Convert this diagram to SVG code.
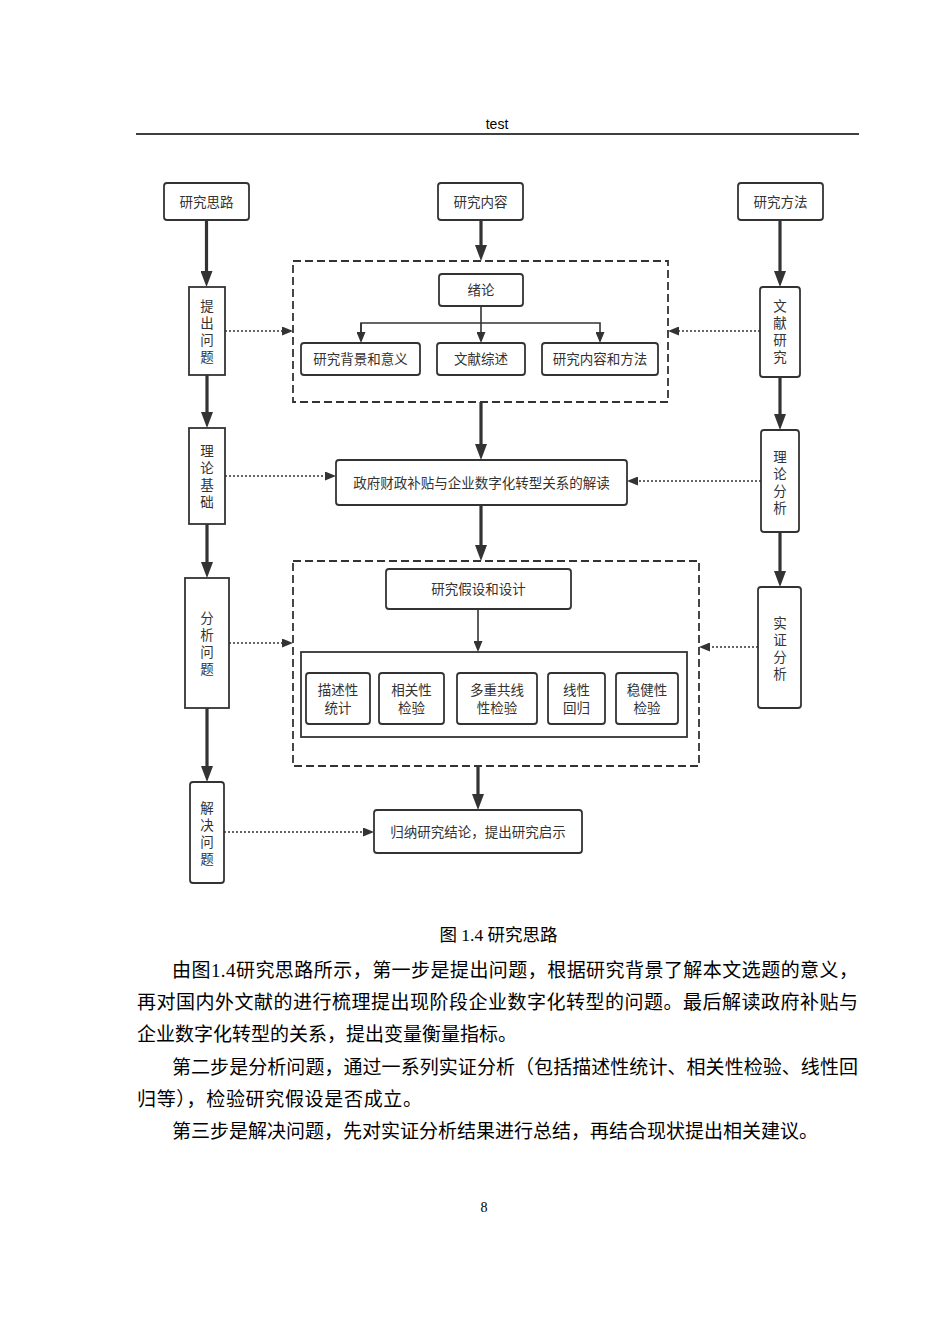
<svg xmlns="http://www.w3.org/2000/svg" width="950" height="1344" viewBox="0 0 950 1344">
<style>
.bx{fill:#fff;stroke:#333;stroke-width:1.8}
.dash{fill:none;stroke:#333;stroke-width:1.8;stroke-dasharray:8 4}
.t{font-family:"Noto Sans CJK SC","Liberation Sans",sans-serif;font-size:13.5px;fill:#333;text-anchor:middle}
.v{font-family:"Noto Sans CJK SC","Liberation Sans",sans-serif;font-size:13.5px;fill:#333;text-anchor:middle;writing-mode:vertical-rl;letter-spacing:3.5px}
.thick{stroke:#333;stroke-width:3.2;fill:none}
.thin{stroke:#333;stroke-width:1.6;fill:none}
.dot{stroke:#333;stroke-width:1.6;fill:none;stroke-dasharray:2 2}
.p{font-family:"Liberation Serif","Noto Sans CJK SC",serif;font-size:19px;fill:#000}
</style>
<defs>
<marker id="big" viewBox="0 0 16 12" markerWidth="16" markerHeight="12" refX="6" refY="6" orient="auto" markerUnits="userSpaceOnUse"><path d="M0,0 L16,6 L0,12 z" fill="#333"/></marker>
<marker id="sm" viewBox="0 0 11 9" markerWidth="11" markerHeight="9" refX="5" refY="4.5" orient="auto" markerUnits="userSpaceOnUse"><path d="M0,0 L11,4.5 L0,9 z" fill="#333"/></marker>
</defs>
<rect width="950" height="1344" fill="#fff"/>
<g id="header">
<text x="497" y="129" style="font-family:'Liberation Sans',sans-serif;font-size:14px;text-anchor:middle">test</text>
<line x1="136" y1="134" x2="859" y2="134" stroke="#000" stroke-width="1.6"/>
</g>
<g id="connectors">
<line class="thick" x1="206.5" y1="220" x2="206.5" y2="277" marker-end="url(#big)"/>
<line class="thick" x1="207" y1="375" x2="207" y2="418" marker-end="url(#big)"/>
<line class="thick" x1="207" y1="524" x2="207" y2="568" marker-end="url(#big)"/>
<line class="thick" x1="207" y1="708" x2="207" y2="772" marker-end="url(#big)"/>
<line class="thick" x1="481" y1="220" x2="481" y2="251" marker-end="url(#big)"/>
<line class="thick" x1="481" y1="402" x2="481" y2="450" marker-end="url(#big)"/>
<line class="thick" x1="481" y1="505" x2="481" y2="551" marker-end="url(#big)"/>
<line class="thick" x1="478" y1="766" x2="478" y2="800" marker-end="url(#big)"/>
<line class="thick" x1="780" y1="220" x2="780" y2="277" marker-end="url(#big)"/>
<line class="thick" x1="780" y1="377" x2="780" y2="420" marker-end="url(#big)"/>
<line class="thick" x1="780" y1="532" x2="780" y2="577" marker-end="url(#big)"/>
<polyline class="thin" points="481,306 481,323"/>
<polyline class="thin" points="361,337 361,323 600,323 600,337" marker-end="url(#sm)"/>
<line class="thin" x1="361" y1="323" x2="361" y2="337" marker-end="url(#sm)"/>
<line class="thin" x1="481" y1="323" x2="481" y2="337" marker-end="url(#sm)"/>
<line class="thin" x1="478" y1="609" x2="478" y2="646" marker-end="url(#sm)"/>
<line class="dot" x1="225" y1="331" x2="287" y2="331" marker-end="url(#sm)"/>
<line class="dot" x1="225" y1="476" x2="330" y2="476" marker-end="url(#sm)"/>
<line class="dot" x1="229" y1="643" x2="287" y2="643" marker-end="url(#sm)"/>
<line class="dot" x1="224" y1="832" x2="368" y2="832" marker-end="url(#sm)"/>
<line class="dot" x1="760" y1="331" x2="674" y2="331" marker-end="url(#sm)"/>
<line class="dot" x1="761" y1="481" x2="633" y2="481" marker-end="url(#sm)"/>
<line class="dot" x1="758" y1="647" x2="705" y2="647" marker-end="url(#sm)"/>
</g>
<g id="n-silu"><rect class="bx" x="164" y="183" width="85" height="37" rx="3"/><text class="t" x="206.5" y="206.5">研究思路</text></g>
<g id="n-neirong"><rect class="bx" x="438" y="183" width="85" height="37" rx="3"/><text class="t" x="480.5" y="206.5">研究内容</text></g>
<g id="n-fangfa"><rect class="bx" x="738" y="183" width="85" height="37" rx="3"/><text class="t" x="780.5" y="206.5">研究方法</text></g>
<g id="n-tichu"><rect class="bx" x="189" y="287" width="36" height="88"/><text class="v" x="207" y="333">提出问题</text></g>
<g id="n-lilunjichu"><rect class="bx" x="189" y="428" width="36" height="96"/><text class="v" x="207" y="478">理论基础</text></g>
<g id="n-fenxi"><rect class="bx" x="185" y="578" width="44" height="130"/><text class="v" x="207" y="645">分析问题</text></g>
<g id="n-jiejue"><rect class="bx" x="190" y="782" width="34" height="101" rx="3"/><text class="v" x="207" y="835">解决问题</text></g>
<g id="n-wenxian"><rect class="bx" x="760" y="287" width="40" height="90" rx="3"/><text class="v" x="780" y="333">文献研究</text></g>
<g id="n-lilunfenxi"><rect class="bx" x="761" y="430" width="38" height="102" rx="3"/><text class="v" x="780" y="484">理论分析</text></g>
<g id="n-shizheng"><rect class="bx" x="758" y="587" width="43" height="121" rx="3"/><text class="v" x="780" y="650">实证分析</text></g>
<g id="g-box1"><rect class="dash" x="293" y="261" width="375" height="141"/></g>
<g id="n-xulun"><rect class="bx" x="439" y="274" width="84" height="32" rx="3"/><text class="t" x="481" y="295">绪论</text></g>
<g id="n-beijing"><rect class="bx" x="301" y="343" width="119" height="32" rx="3"/><text class="t" x="360.5" y="364">研究背景和意义</text></g>
<g id="n-zongshu"><rect class="bx" x="437" y="343" width="88" height="32" rx="3"/><text class="t" x="481" y="364">文献综述</text></g>
<g id="n-neirongfangfa"><rect class="bx" x="542" y="343" width="116" height="32" rx="3"/><text class="t" x="600" y="364">研究内容和方法</text></g>
<g id="n-zhengfu"><rect class="bx" x="336" y="460" width="291" height="45" rx="3"/><text class="t" x="481.5" y="487.5">政府财政补贴与企业数字化转型关系的解读</text></g>
<g id="g-box2"><rect class="dash" x="293" y="561" width="406" height="205"/></g>
<g id="n-jiashe"><rect class="bx" x="386" y="569" width="185" height="40" rx="3"/><text class="t" x="478.5" y="594">研究假设和设计</text></g>
<g id="g-inner"><rect class="bx" x="301" y="652" width="386" height="85"/></g>
<g id="n-miaoshu"><rect class="bx" x="306" y="673" width="64" height="51" rx="3"/><text class="t"><tspan x="338" y="695">描述性</tspan><tspan x="338" y="712.5">统计</tspan></text></g>
<g id="n-xiangguan"><rect class="bx" x="379" y="673" width="65" height="51" rx="3"/><text class="t"><tspan x="411.5" y="695">相关性</tspan><tspan x="411.5" y="712.5">检验</tspan></text></g>
<g id="n-duochong"><rect class="bx" x="457" y="673" width="80" height="51" rx="3"/><text class="t"><tspan x="497" y="695">多重共线</tspan><tspan x="497" y="712.5">性检验</tspan></text></g>
<g id="n-huigui"><rect class="bx" x="548" y="673" width="57" height="51" rx="3"/><text class="t"><tspan x="576.5" y="695">线性</tspan><tspan x="576.5" y="712.5">回归</tspan></text></g>
<g id="n-wenjian"><rect class="bx" x="616" y="673" width="62" height="51" rx="3"/><text class="t"><tspan x="647" y="695">稳健性</tspan><tspan x="647" y="712.5">检验</tspan></text></g>
<g id="n-guina"><rect class="bx" x="374" y="810" width="208" height="43" rx="3"/><text class="t" x="478" y="837">归纳研究结论，提出研究启示</text></g>
<g id="caption">
<text x="498.5" y="941" style="font-family:'Liberation Serif','Noto Sans CJK SC',serif;font-size:17.5px;text-anchor:middle">图 1.4 研究思路</text>
</g>
<g id="body">
<text class="p" x="172" y="977" textLength="686" lengthAdjust="spacing">由图1.4研究思路所示，第一步是提出问题，根据研究背景了解本文选题的意义，</text>
<text class="p" x="137" y="1009" textLength="721" lengthAdjust="spacing">再对国内外文献的进行梳理提出现阶段企业数字化转型的问题。最后解读政府补贴与</text>
<text class="p" x="137" y="1041">企业数字化转型的关系，提出变量衡量指标。</text>
<text class="p" x="172" y="1074" textLength="686" lengthAdjust="spacing">第二步是分析问题，通过一系列实证分析（包括描述性统计、相关性检验、线性回</text>
<text class="p" x="137" y="1106" textLength="285" lengthAdjust="spacing">归等），检验研究假设是否成立。</text>
<text class="p" x="172" y="1138">第三步是解决问题，先对实证分析结果进行总结，再结合现状提出相关建议。</text>
</g>
<g id="footer"><text x="484" y="1212" style="font-family:'Liberation Serif',serif;font-size:14px;text-anchor:middle">8</text></g>
</svg>
